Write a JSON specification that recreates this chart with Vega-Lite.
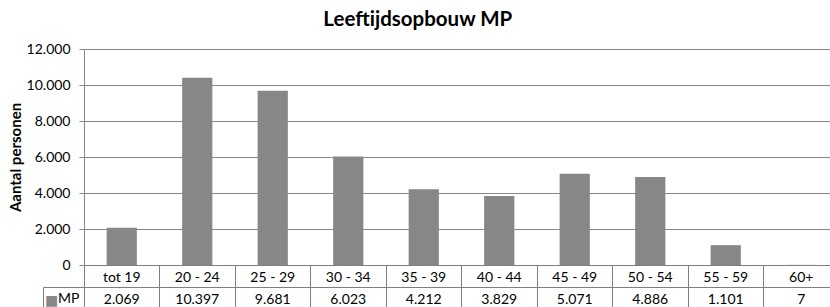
{
  "$schema": "https://vega.github.io/schema/vega-lite/v6.json",
  "padding": {"left": 8, "top": 9, "right": 0, "bottom": 0},
  "config": {
    "font": "Lato",
    "locale": {"number": {"decimal": ",", "thousands": ".", "grouping": [3], "currency": ["€", ""]}},
    "concat": {"spacing": 0},
    "view": {"stroke": null}
  },
  "bounds": "flush",
  "title": {"text": "Leeftijdsopbouw MP", "fontSize": 20.5, "fontWeight": "bold", "font": "Lato", "anchor": "middle", "color": "#000000", "offset": 12, "dx": -6},
  "data": {"values": [
    {"age": "tot 19", "count": 2069},
    {"age": "20 - 24", "count": 10397},
    {"age": "25 - 29", "count": 9681},
    {"age": "30 - 34", "count": 6023},
    {"age": "35 - 39", "count": 4212},
    {"age": "40 - 44", "count": 3829},
    {"age": "45 - 49", "count": 5071},
    {"age": "50 - 54", "count": 4886},
    {"age": "55 - 59", "count": 1101},
    {"age": "60+", "count": 7}
  ]},
  "vconcat": [
    {
      "width": 755,
      "height": 216,
      "mark": {"type": "bar", "color": "#878787"},
      "encoding": {
        "x": {"field": "age", "type": "nominal", "sort": null, "scale": {"paddingInner": 0.6, "paddingOuter": 0.3}, "axis": null},
        "y": {"field": "count", "type": "quantitative", "scale": {"domain": [0, 12000], "nice": false},
          "axis": {"values": [0, 2000, 4000, 6000, 8000, 10000, 12000], "format": ",d", "title": "Aantal personen", "titleFontSize": 15, "titleFontWeight": "bold", "titleColor": "#000000", "titlePadding": 3, "labelFontSize": 14, "labelColor": "#000000", "labelPadding": 9, "tickSize": 5, "tickColor": "#888888", "domainColor": "#888888", "gridColor": "#888888", "gridOpacity": 1}}
      }
    },
    {
      "width": 755,
      "height": 44,
      "view": {"stroke": "#7f7f7f"},
      "encoding": {
        "x": {"field": "age", "type": "nominal", "sort": null, "scale": {"type": "band", "paddingInner": 0, "paddingOuter": 0},
          "axis": {"orient": "bottom", "bandPosition": 0, "grid": true, "gridColor": "#7f7f7f", "gridOpacity": 1, "labels": false, "ticks": false, "domain": false, "title": null}}
      },
      "layer": [
        {
          "mark": {"type": "text", "fontSize": 14, "color": "#000000", "dy": 2},
          "encoding": {
            "y": {"datum": "header", "type": "nominal", "scale": {"type": "band", "domain": ["header", "MP"], "paddingInner": 0, "paddingOuter": 0},
              "axis": {"orient": "left", "offset": 41, "bandPosition": 0, "grid": true, "gridColor": "#7f7f7f", "gridOpacity": 1, "domain": true, "domainColor": "#7f7f7f", "domainDash": [0, 22, 22, 0], "ticks": true, "tickSize": -41, "tickColor": "#7f7f7f", "tickOpacity": {"condition": {"test": "datum.value == 'MP'", "value": 1}, "value": 0}, "labelExpr": "datum.value == 'MP' ? 'MP' : ''", "labelAlign": "right", "labelBaseline": "middle", "labelOffset": 1, "labelPadding": 5, "labelFontSize": 14, "labelColor": "#000000", "title": "■", "titleAngle": 0, "titleFont": "DejaVu Sans", "titleFontSize": 14, "titleFontWeight": "normal", "titleColor": "#878787", "titleX": 8, "titleY": 35, "titleAlign": "center", "titleBaseline": "middle"}},
            "text": {"field": "age"}
          }
        },
        {
          "mark": {"type": "text", "fontSize": 14, "color": "#000000", "dy": 2},
          "encoding": {
            "y": {"datum": "MP", "type": "nominal"},
            "text": {"field": "count", "type": "quantitative", "format": ",d"}
          }
        }
      ]
    }
  ]
}
